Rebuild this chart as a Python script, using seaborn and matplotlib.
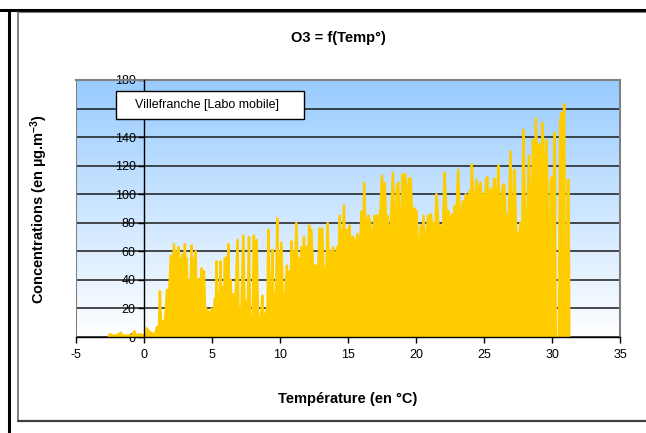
import numpy as np
import matplotlib
matplotlib.use("Agg")
import matplotlib.pyplot as plt
import seaborn as sns
from matplotlib.colors import LinearSegmentedColormap
from matplotlib.lines import Line2D
from matplotlib.patches import Rectangle

# temperature (°C) and O3 concentration, rows of 10
temps = [
    -2.6, -2.5, -2.3, -2.0, -1.7, -1.6, -1.2, -0.9, -0.7, -0.6,
    -0.3, -0.1, 0.1, 0.2, 0.35, 0.5, 0.7, 0.8, 0.95, 1.1,
    1.17, 1.25, 1.4, 1.55, 1.7, 1.8, 1.9, 1.98, 2.05, 2.2,
    2.3, 2.35, 2.45, 2.52, 2.6, 2.65, 2.75, 2.84, 2.9, 3.01,
    3.08, 3.14, 3.2, 3.26, 3.4, 3.5, 3.58, 3.67, 3.72, 3.8,
    3.86, 3.92, 4.0, 4.12, 4.18, 4.24, 4.3, 4.41, 4.5, 4.56,
    4.65, 4.73, 4.85, 4.97, 5.1, 5.22, 5.28, 5.34, 5.4, 5.46,
    5.55, 5.63, 5.7, 5.83, 5.9, 5.95, 6.0, 6.07, 6.13, 6.2,
    6.28, 6.37, 6.45, 6.57, 6.7, 6.88, 6.95, 7.05, 7.15, 7.3,
    7.4, 7.54, 7.62, 7.72, 7.8, 7.91, 8.0, 8.08, 8.15, 8.28,
    8.38, 8.48, 8.6, 8.7, 8.77, 8.9, 9.02, 9.08, 9.14, 9.22,
    9.31, 9.37, 9.43, 9.5, 9.63, 9.7, 9.8, 9.86, 9.92, 10.0,
    10.1, 10.2, 10.3, 10.4, 10.5, 10.6, 10.7, 10.78, 10.85, 10.92,
    11.0, 11.1, 11.2, 11.3, 11.4, 11.5, 11.6, 11.68, 11.76, 11.85,
    11.95, 12.05, 12.15, 12.22, 12.3, 12.45, 12.6, 12.7, 12.8, 12.9,
    13.0, 13.1, 13.2, 13.3, 13.4, 13.5, 13.6, 13.7, 13.8, 13.9,
    14.05, 14.2, 14.3, 14.4, 14.45, 14.5, 14.6, 14.7, 14.8, 14.9,
    15.0, 15.1, 15.2, 15.3, 15.35, 15.4, 15.55, 15.7, 15.8, 15.9,
    16.0, 16.1, 16.2, 16.3, 16.4, 16.5, 16.55, 16.6, 16.7, 16.8,
    16.95, 17.05, 17.15, 17.25, 17.4, 17.5, 17.6, 17.7, 17.8, 17.9,
    18.0, 18.15, 18.3, 18.4, 18.5, 18.6, 18.7, 18.8, 18.9, 19.0,
    19.1, 19.2, 19.3, 19.4, 19.5, 19.6, 19.7, 19.8, 19.9, 20.05,
    20.15, 20.25, 20.35, 20.45, 20.55, 20.65, 20.8, 20.9, 21.0, 21.1,
    21.2, 21.3, 21.4, 21.5, 21.6, 21.7, 21.85, 21.95, 22.1, 22.2,
    22.3, 22.4, 22.5, 22.65, 22.75, 22.85, 22.95, 23.1, 23.2, 23.3,
    23.45, 23.55, 23.65, 23.75, 23.85, 23.95, 24.05, 24.1, 24.2, 24.3,
    24.45, 24.55, 24.65, 24.75, 24.85, 24.95, 25.05, 25.15, 25.25, 25.35,
    25.45, 25.55, 25.65, 25.75, 25.85, 25.95, 26.05, 26.12, 26.17, 26.22,
    26.3, 26.4, 26.5, 26.6, 26.7, 26.8, 26.95, 27.05, 27.15, 27.25,
    27.35, 27.42, 27.48, 27.6, 27.7, 27.8, 27.9, 28.0, 28.1, 28.2,
    28.3, 28.4, 28.45, 28.5, 28.6, 28.65, 28.72, 28.8, 28.9, 29.0,
    29.1, 29.2, 29.3, 29.4, 29.47, 29.55, 29.6, 29.7, 29.8, 29.85,
    29.9, 30.0, 30.1, 30.2, 30.27, 30.5, 30.6, 30.7, 30.8, 30.9,
    30.95, 31.1, 31.15, 31.22, 31.27,
]
o3 = [
    0, 2, 1, 1, 3, 1, 1, 1, 4, 1,
    2, 1, 2, 6, 4, 3, 2, 1, 7, 6,
    32, 8, 11, 12, 33, 20, 40, 57, 30, 65,
    35, 60, 30, 63, 25, 55, 30, 58, 30, 65,
    35, 55, 20, 40, 25, 64, 30, 55, 25, 60,
    20, 40, 15, 41, 15, 48, 15, 46, 15, 20,
    12, 18, 10, 20, 12, 27, 15, 53, 15, 30,
    15, 53, 15, 35, 20, 55, 20, 56, 25, 65,
    20, 40, 15, 30, 15, 68, 15, 20, 15, 71,
    15, 25, 15, 70, 10, 8, 15, 71, 20, 68,
    15, 10, 15, 29, 5, 15, 20, 20, 75, 25,
    22, 25, 61, 25, 30, 25, 83, 30, 60, 25,
    66, 30, 12, 30, 50, 30, 46, 30, 67, 40,
    60, 40, 80, 45, 55, 40, 63, 45, 70, 40,
    63, 45, 78, 50, 75, 45, 50, 50, 45, 76,
    50, 76, 45, 48, 45, 80, 50, 60, 50, 63,
    50, 63, 50, 85, 55, 75, 55, 92, 55, 75,
    55, 78, 60, 70, 55, 70, 60, 72, 60, 68,
    88, 60, 108, 60, 80, 85, 60, 82, 75, 60,
    85, 77, 85, 80, 90, 113, 90, 108, 82, 85,
    60, 80, 115, 80, 73, 105, 108, 70, 70, 114,
    110, 114, 105, 80, 111, 111, 90, 65, 90, 87,
    55, 60, 78, 60, 85, 60, 75, 85, 60, 86,
    70, 80, 65, 100, 87, 70, 78, 60, 115, 93,
    75, 88, 70, 86, 70, 92, 75, 117, 90, 75,
    95, 80, 100, 80, 98, 102, 85, 121, 100, 85,
    110, 90, 105, 108, 80, 100, 85, 110, 112, 80,
    102, 104, 85, 111, 102, 85, 120, 80, 0, 90,
    100, 107, 106, 80, 85, 75, 130, 85, 60, 117,
    75, 0, 73, 73, 80, 60, 145, 90, 0, 90,
    127, 90, 0, 70, 138, 110, 0, 153, 127, 100,
    135, 90, 150, 118, 0, 120, 138, 80, 77, 0,
    110, 112, 90, 143, 0, 0, 150, 157, 140, 163,
    0, 0, 110, 110, 0,
]
assert len(temps) == len(o3)

x_ticks = [-5, 0, 5, 10, 15, 20, 25, 30, 35]
y_ticks = [0, 20, 40, 60, 80, 100, 120, 140, 160, 180]
series_name = "Villefranche [Labo mobile]"

sns.set_style("white")
plt.rcParams["font.family"] = ["Liberation Sans", "DejaVu Sans"]
plt.rcParams["mathtext.fontset"] = "custom"
plt.rcParams["mathtext.rm"] = "Liberation Sans:bold"
plt.rcParams["mathtext.default"] = "rm"
for key in ["text.color", "axes.labelcolor", "xtick.color", "ytick.color"]:
    plt.rcParams[key] = "black"

W, H = 646, 433
fig = plt.figure(figsize=(W / 100, H / 100), dpi=100)
ax = fig.add_axes([76 / W, 1 - 337 / H, 544 / W, 257 / H])

# gradient background of the plot area
bg = LinearSegmentedColormap.from_list("bg", ["#99CCFF", "#FFFFFF"])
ax.imshow(np.linspace(0, 1, 256).reshape(-1, 1), extent=[-5, 35, 0, 180],
          aspect="auto", cmap=bg, origin="upper", zorder=0)

ax.fill_between(temps, o3, 0, color="#FFCC00", lw=0, zorder=2)
sns.lineplot(x=temps, y=o3, color="#FFCC00", lw=1.8, estimator=None,
             sort=False, ax=ax, zorder=2.2)

ax.set_xlim(-5, 35)
ax.set_ylim(0, 180)
ax.set_xticks(x_ticks)
ax.set_yticks(y_ticks)
ax.set_xticklabels([str(v) for v in x_ticks])
ax.set_yticklabels([str(v) for v in y_ticks])
ax.grid(axis="y", color="#1a1a1a", lw=1.1, zorder=1)
ax.grid(axis="x", visible=False)

ax.spines["left"].set_position(("data", 0))
ax.spines["left"].set_color("black")
ax.spines["bottom"].set_color("black")
for s in ["left", "bottom"]:
    ax.spines[s].set_linewidth(1.0)
    ax.spines[s].set_zorder(3)
for s in ["top", "right"]:
    ax.spines[s].set_color("#808080")
    ax.spines[s].set_linewidth(1.5)
ax.axvline(-5, color="#808080", lw=1.5, zorder=3)

ax.tick_params(axis="both", direction="out", length=4, width=1, colors="black",
               labelsize=9, left=True, bottom=True)
ax.tick_params(axis="y", pad=2)
ax.tick_params(axis="x", pad=5)
for lbl in ax.get_yticklabels():
    lbl.set_zorder(4)

# legend box
ax.add_patch(Rectangle((0.0735, 0.848), 0.3456, 0.109, transform=ax.transAxes,
                       fc="white", ec="black", lw=1, zorder=5, clip_on=False))
ax.text(0.108, 0.903, series_name, transform=ax.transAxes, ha="left", va="center",
        fontsize=9, color="black", zorder=6)

ax.set_xlabel("Température (en °C)", fontsize=10.5, fontweight="bold")
ax.xaxis.set_label_coords(0.5, -0.215)
ax.set_ylabel("Concentrations (en µg.m$^{-3}$)", fontsize=10.5, fontweight="bold")
ax.yaxis.set_label_coords(-0.048, 0.5)

fig.text(338 / W, 1 - 38 / H, "O3 = f(Temp°)", ha="center", va="center",
         fontsize=10.5, fontweight="bold", color="black")

# chart frame lines
fig.add_artist(Line2D([0, 1], [1 - 9.5 / H, 1 - 9.5 / H], transform=fig.transFigure,
                      color="black", lw=2.2))
fig.add_artist(Line2D([8.5 / W, 8.5 / W], [0, 1 - 9.5 / H], transform=fig.transFigure,
                      color="black", lw=2.2))
fig.add_artist(Line2D([18 / W, 18 / W], [1 - 421 / H, 1 - 11.5 / H],
                      transform=fig.transFigure, color="#606060", lw=1.1))
fig.add_artist(Line2D([18 / W, 1], [1 - 421 / H, 1 - 421 / H],
                      transform=fig.transFigure, color="#404040", lw=1.6))
fig.add_artist(Line2D([18 / W, 1], [1 - 11.5 / H, 1 - 11.5 / H],
                      transform=fig.transFigure, color="#808080", lw=0.8))

fig.savefig("out.png", dpi=100)
